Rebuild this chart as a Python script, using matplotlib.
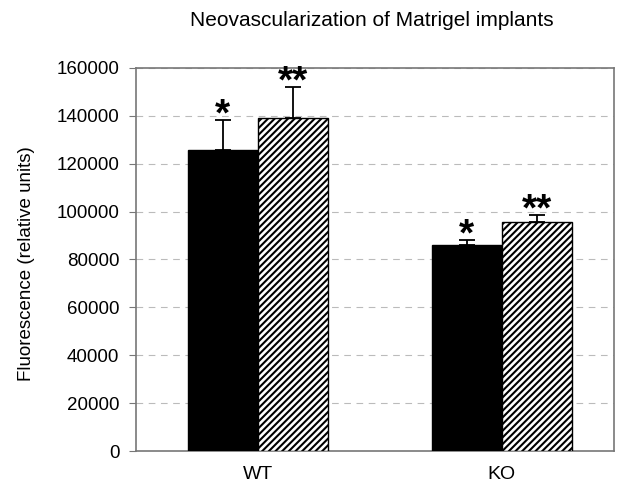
import matplotlib
matplotlib.use("Agg")
import matplotlib.pyplot as plt
import numpy as np
from matplotlib.textpath import TextPath
from matplotlib.font_manager import FontProperties

plt.rcParams['font.family'] = ['Liberation Sans', 'DejaVu Sans']
plt.rcParams['hatch.linewidth'] = 1.5

categories = ["WT", "KO"]
series_solid = [125700, 86000]
series_solid_err = [12600, 2100]
series_hatched = [139100, 95700]
series_hatched_err = [12900, 2900]
marks_solid = ["*", "*"]
marks_hatched = ["**", "**"]
yticks = [0, 20000, 40000, 60000, 80000, 100000, 120000, 140000, 160000]

fig = plt.figure(figsize=(6.27, 4.88), dpi=100)
ax = fig.add_axes([0.217, 0.0758, 0.762, 0.785])

x = np.arange(len(categories))
w = 0.287
ax.bar(x - w/2, series_solid, w, color='black', edgecolor='black', linewidth=1, zorder=3)
ax.bar(x + w/2, series_hatched, w, color='white', edgecolor='black', hatch='/////', linewidth=1, zorder=3)
ax.errorbar(x - w/2, series_solid, yerr=[np.zeros(2), series_solid_err], fmt='none', ecolor='black',
            elinewidth=1.3, capsize=6, capthick=1.3, zorder=4)
ax.errorbar(x + w/2, series_hatched, yerr=[np.zeros(2), series_hatched_err], fmt='none', ecolor='black',
            elinewidth=1.3, capsize=6, capthick=1.3, zorder=4)

star_fs = 28
star_prop = FontProperties(family='Liberation Sans', weight='bold', size=star_fs)
ink = TextPath((0, 0), '*', prop=star_prop).get_extents()
gap_pt = 5.0
off = gap_pt - ink.y0

for i in range(len(categories)):
    ax.annotate(marks_solid[i], (x[i] - w/2, series_solid[i] + series_solid_err[i]),
                xytext=(0, off), textcoords='offset points', ha='center', va='baseline',
                fontproperties=star_prop, zorder=5)
    ax.annotate(marks_hatched[i], (x[i] + w/2, series_hatched[i] + series_hatched_err[i]),
                xytext=(0, off), textcoords='offset points', ha='center', va='baseline',
                fontproperties=star_prop, zorder=5, annotation_clip=False)

ax.set_xlim(-0.5, 1.46)
ax.set_ylim(0, 160000)
ax.set_yticks(yticks)
ax.set_yticklabels([str(v) for v in yticks], fontsize=13.5)
ax.set_xticks(x)
ax.set_xticklabels(categories, fontsize=14)
ax.tick_params(axis='x', length=0, pad=11)
ax.tick_params(axis='y', length=5, color='#777777', pad=7)
ax.yaxis.grid(True, linestyle=(0, (6, 5)), color='#bbbbbb', linewidth=0.8, zorder=0)
for s in ax.spines.values():
    s.set_color('#777777')
    s.set_linewidth(1.2)

ax.set_ylabel("Fluorescence (relative units)", fontsize=13.5)
ax.yaxis.set_label_coords(-0.211, 0.49)
fig.text(0.593, 0.959, "Neovascularization of Matrigel implants", ha='center', va='center', fontsize=15)

fig.savefig("out.png", dpi=100)
